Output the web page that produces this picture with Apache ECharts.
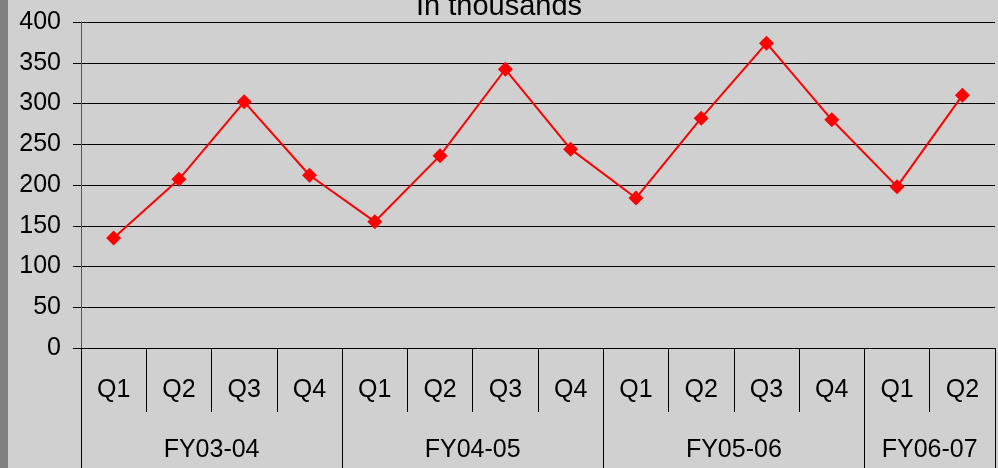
<!DOCTYPE html>
<html>
<head>
<meta charset="utf-8">
<script src="https://cdn.jsdelivr.net/npm/echarts@6/dist/echarts.min.js"></script>
<style>
  html, body { margin: 0; padding: 0; background: #d0d0d0; }
  #chart { width: 998px; height: 468px; }
</style>
</head>
<body>
<div id="chart"></div>
<script>
var quarters = ['Q1', 'Q2', 'Q3', 'Q4', 'Q1', 'Q2', 'Q3', 'Q4', 'Q1', 'Q2', 'Q3', 'Q4', 'Q1', 'Q2'];
var values = [135, 207, 302, 212, 155, 236, 342, 244, 184, 282, 374, 280, 198, 310];
var years = ['FY03-04', 'FY04-05', 'FY05-06', 'FY06-07'];
var yearCenters = [2, 6, 10, 13];
var yearEdges = [0, 4, 8, 12, 14];
var quarterEdges = [1, 2, 3, 5, 6, 7, 9, 10, 11, 13];

var chart = echarts.init(document.getElementById('chart'));
chart.setOption({
  backgroundColor: '#d0d0d0',
  animation: false,
  title: {
    text: 'In thousands',
    left: 'center',
    top: -13,
    textStyle: { fontFamily: 'Liberation Sans', fontSize: 29, fontWeight: 'normal', color: '#000' }
  },
  graphic: [{
    type: 'rect',
    left: 0, top: 0,
    shape: { width: 8, height: 468 },
    style: { fill: '#808080' }
  }],
  grid: { left: 81, right: 3, top: 22, bottom: 120, containLabel: false },
  xAxis: [{
    type: 'category',
    data: quarters,
    axisLine: { lineStyle: { color: '#000', width: 1 } },
    axisTick: { show: false },
    axisLabel: {
      interval: 0, margin: 30,
      fontFamily: 'Liberation Sans', fontSize: 25, color: '#000'
    }
  }, {
    // quarter dividers
    type: 'value',
    min: 0,
    max: 14,
    position: 'bottom',
    axisLine: { show: false },
    splitLine: { show: false },
    axisTick: { show: true, customValues: quarterEdges, length: 64, lineStyle: { color: '#000' } },
    axisLabel: { show: false }
  }, {
    // fiscal year groups
    type: 'value',
    min: 0,
    max: 14,
    position: 'bottom',
    axisLine: { show: false },
    splitLine: { show: false },
    axisTick: { show: true, customValues: yearEdges, length: 125, lineStyle: { color: '#000' } },
    axisLabel: {
      customValues: yearCenters,
      margin: 90,
      formatter: function (v) { return years[yearCenters.indexOf(v)]; },
      fontFamily: 'Liberation Sans', fontSize: 25, color: '#000'
    }
  }],
  yAxis: {
    type: 'value',
    min: 0,
    max: 400,
    interval: 50,
    axisLine: { show: true, lineStyle: { color: '#555', width: 1 } },
    axisTick: { show: true, length: 8, lineStyle: { color: '#000' } },
    axisLabel: { margin: 20, fontFamily: 'Liberation Sans', fontSize: 25, color: '#000' },
    splitLine: { lineStyle: { color: '#000', width: 1 } }
  },
  series: [{
    type: 'line',
    xAxisIndex: 0,
    data: values,
    symbol: 'diamond',
    symbolSize: 15,
    itemStyle: { color: '#ff0000' },
    lineStyle: { color: '#ff0000', width: 2 }
  }]
});
</script>
</body>
</html>
